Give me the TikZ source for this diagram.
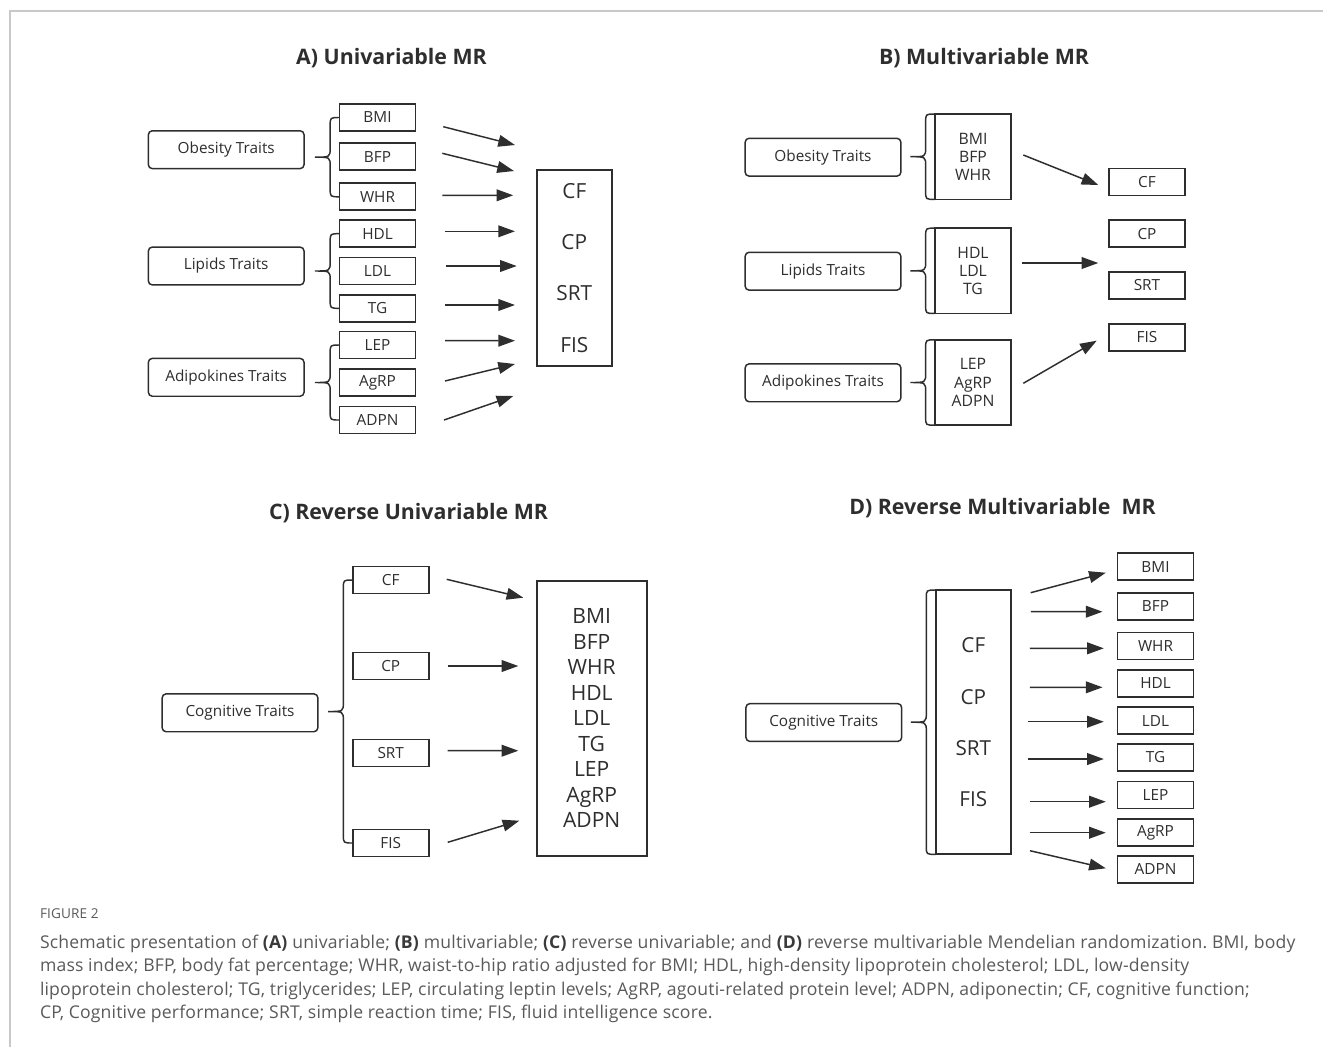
\documentclass[tikz,border=0pt]{standalone}
\usepackage{fontspec}
\setmainfont{Open Sans}
\newfontfamily\capfont[LetterSpace=1.0]{Open Sans}
\usetikzlibrary{arrows.meta,calc}
\definecolor{ink}{HTML}{2E2E2E}
\definecolor{capgray}{HTML}{5A5A5A}
\definecolor{capdark}{HTML}{3A3A3A}
\definecolor{framegray}{HTML}{C8C8C8}

% curly brace from one anchor down to another, tip pointing left at the midpoint
\newcommand\traitbrace[2]{%
  \draw[brc] let \p1=(#1), \p2=(#2), \p3=($(#1)!0.5!(#2)$) in
    (\p1) .. controls (\x1-7pt,\y1) .. (\x1-7pt,\y1-6pt)
    -- (\x3-7pt,\y3+7pt) .. controls (\x3-7pt,\y3) .. (\x3-18.5pt,\y3)
    .. controls (\x3-7pt,\y3) .. (\x3-7pt,\y3-7pt)
    -- (\x2-7pt,\y2+6pt) .. controls (\x2-7pt,\y2) .. (\p2);}

\begin{document}
\frenchspacing
\begin{tikzpicture}[x=0.75pt,y=-0.75pt,
  every node/.style={inner sep=0pt,outer sep=0pt,text=ink},
  lbl/.style={font=\fontsize{11.5}{13.7}\selectfont},
  trait/.style={lbl,draw=ink,line width=1.1pt,rounded corners=3pt,minimum width=116.8pt,minimum height=28.4pt},
  item/.style={lbl,draw=ink,line width=1.3pt,minimum width=57pt,minimum height=20.2pt},
  panel/.style={align=center,draw=ink,line width=1.3pt},
  ttl/.style={font=\bfseries\fontsize{16}{19}\selectfont,anchor=base},
  arr/.style={draw=ink,line width=1.1pt,-{Triangle[length=12.5pt,width=8.8pt]}},
  brc/.style={draw=ink,line width=1.1pt},
  captxt/.style={anchor=base west,text=capgray,font=\capfont\fontsize{13.2}{15}\selectfont},
]
\fill[white] (0,0) rectangle (1323,1047);
\useasboundingbox (0,0) rectangle (1323,1047);

% page frame
\draw[framegray,line width=1.1pt] (10,1047) -- (10,11) -- (1323,11);

% ---------------- A) Univariable MR ----------------
\node[ttl] (tA) at (391.5,64.5) {A) Univariable MR};
\node[trait] (obA) at (226.2,149.7) {Obesity Traits};
\node[trait] (liA) at (226.2,266) {Lipids Traits};
\node[trait] (adA) at (226.2,377.3) {Adipokines Traits};
\node[item] (bmiA)  at (377.5,117.5) {BMI};
\node[item] (bfpA)  at (377.5,156.8) {BFP};
\node[item] (whrA)  at (377.5,196.8) {WHR};
\node[item] (hdlA)  at (377.5,233.7) {HDL};
\node[item] (ldlA)  at (377.5,271)   {LDL};
\node[item] (tgA)   at (377.5,308.3) {TG};
\node[item] (lepA)  at (377.5,345)   {LEP};
\node[item] (agrpA) at (377.5,382.7) {AgRP};
\node[item] (adpnA) at (377.5,420)   {ADPN};
\node[panel,minimum width=56pt,minimum height=147pt,font=\fontsize{15.6}{38.3}\selectfont] (outA) at (574.3,268) {CF\\CP\\SRT\\FIS};
\traitbrace{bmiA.west}{whrA.west}
\traitbrace{hdlA.west}{tgA.west}
\traitbrace{lepA.west}{adpnA.west}
\draw[arr] ([shift={(27.8,9.2)}]bmiA.east)  -- ([shift={(-22,-123)}]outA.west);
\draw[arr] ([shift={(26.8,-3.5)}]bfpA.east) -- ([shift={(-23,-97)}]outA.west);
\draw[arr] ([shift={(26.8,-1.5)}]whrA.east) -- ([shift={(-23.7,-72.7)}]outA.west);
\draw[arr] ([shift={(29.5,-2.4)}]hdlA.east) -- ([shift={(-22,-36.7)}]outA.west);
\draw[arr] ([shift={(30.5,-5)}]ldlA.east)   -- ([shift={(-20.3,-2)}]outA.west);
\draw[arr] ([shift={(29.5,-3.3)}]tgA.east)  -- ([shift={(-22,37)}]outA.west);
\draw[arr] ([shift={(29.5,-4.3)}]lepA.east) -- ([shift={(-22,72.7)}]outA.west);
\draw[arr] ([shift={(29.5,-1.7)}]agrpA.east) -- ([shift={(-22,96)}]outA.west);
\draw[arr] ([shift={(28.5,0)}]adpnA.east)   -- ([shift={(-23.7,128)}]outA.west);

% ---------------- B) Multivariable MR ----------------
\node[ttl] (tB) at (984,64.5) {B) Multivariable MR};
\node[trait] (obB) at (823,157.2) {Obesity Traits};
\node[trait] (liB) at (823,271.2) {Lipids Traits};
\node[trait] (adB) at (823,382.8) {Adipokines Traits};
\node[panel,minimum width=57pt,minimum height=64pt,font=\fontsize{11.8}{13.7}\selectfont] (gObB) at (973,156.7) {BMI\\BFP\\WHR};
\node[panel,minimum width=57pt,minimum height=64pt,font=\fontsize{11.8}{13.7}\selectfont] (gLiB) at (973,270.8) {HDL\\LDL\\TG};
\node[panel,minimum width=57pt,minimum height=64pt,font=\fontsize{11.8}{13.7}\selectfont] (gAdB) at (973,382.5) {LEP\\AgRP\\ADPN};
\node[item] (cfB)  at (1147,182)   {CF};
\node[item] (cpB)  at (1147,233.7) {CP};
\node[item] (srtB) at (1147,285.3) {SRT};
\node[item] (fisB) at (1147,337.3) {FIS};
\traitbrace{gObB.north west}{gObB.south west}
\traitbrace{gLiB.north west}{gLiB.south west}
\traitbrace{gAdB.north west}{gAdB.south west}
\draw[arr] ([shift={(12.3,-1.7)}]gObB.east) -- ([shift={(-10.7,3)}]cfB.west);
\draw[arr] ([shift={(11.3,-7.8)}]gLiB.east) -- ([shift={(-10.7,-22.3)}]srtB.west);
\draw[arr] ([shift={(12.3,0.8)}]gAdB.east)  -- ([shift={(-12.3,3.4)}]fisB.west);

% ---------------- C) Reverse Univariable MR ----------------
\node[ttl] (tC) at (408.5,519.5) {C) Reverse Univariable MR};
\node[trait] (cgC) at (240,712.8) {Cognitive Traits};
\node[item] (cfC)  at (390.7,580) {CF};
\node[item] (cpC)  at (390.7,666) {CP};
\node[item] (srtC) at (390.7,753) {SRT};
\node[item] (fisC) at (390.7,843) {FIS};
\node[panel,minimum width=82.5pt,minimum height=206.5pt,font=\fontsize{15.8}{19.1}\selectfont] (outC) at (591.7,718.3) {BMI\\BFP\\WHR\\HDL\\LDL\\TG\\LEP\\AgRP\\ADPN};
\traitbrace{cfC.west}{fisC.west}
\draw[arr] ([shift={(18,-0.7)}]cfC.east)  -- ([shift={(-13.4,-120.6)}]outC.west);
\draw[arr] ([shift={(19,0)}]cpC.east)     -- ([shift={(-18.4,-52.3)}]outC.west);
\draw[arr] ([shift={(19,-2.3)}]srtC.east) -- ([shift={(-18.4,32.4)}]outC.west);
\draw[arr] ([shift={(19,-0.7)}]fisC.east) -- ([shift={(-17.4,102.4)}]outC.west);

% ---------------- D) Reverse Multivariable MR ----------------
\node[ttl] (tD) at (1002.5,514.5) {D) Reverse Multivariable\ \ MR};
\node[trait] (cgD) at (823.8,722.5) {Cognitive Traits};
\node[panel,minimum width=56.5pt,minimum height=198.2pt,font=\fontsize{15.5}{38.3}\selectfont] (inD) at (973.3,722.2) {CF\\CP\\SRT\\FIS};
\node[item] (bmiD)  at (1155.5,566.7) {BMI};
\node[item] (bfpD)  at (1155.5,606.3) {BFP};
\node[item] (whrD)  at (1155.5,646)   {WHR};
\node[item] (hdlD)  at (1155.5,683.3) {HDL};
\node[item] (ldlD)  at (1155.5,720.7) {LDL};
\node[item] (tgD)   at (1155.5,757.3) {TG};
\node[item] (lepD)  at (1155.5,795)   {LEP};
\node[item] (agrpD) at (1155.5,832.7) {AgRP};
\node[item] (adpnD) at (1155.5,869.3) {ADPN};
\traitbrace{inD.north west}{inD.south west}
\draw[arr] ([shift={(19.7,-129.5)}]inD.east) -- ([shift={(-11.7,6)}]bmiD.west);
\draw[arr] ([shift={(20,-110.5)}]inD.east)   -- ([shift={(-15,5.4)}]bfpD.west);
\draw[arr] ([shift={(19,-73.9)}]inD.east)    -- ([shift={(-13.7,2.3)}]whrD.west);
\draw[arr] ([shift={(19,-34.9)}]inD.east)    -- ([shift={(-15,4)}]hdlD.west);
\draw[arr] ([shift={(16.7,-0.5)}]inD.east)   -- ([shift={(-13.7,1)}]ldlD.west);
\draw[arr] ([shift={(16.7,36.8)}]inD.east)   -- ([shift={(-13.7,1.7)}]tgD.west);
\draw[arr] ([shift={(19,79.5)}]inD.east)     -- ([shift={(-11.7,6.7)}]lepD.west);
\draw[arr] ([shift={(19,110.5)}]inD.east)    -- ([shift={(-11.7,0)}]agrpD.west);
\draw[arr] ([shift={(19,128.5)}]inD.east)    -- ([shift={(-11.7,-1)}]adpnD.west);

% ---------------- caption ----------------
\node[captxt,font=\capfont\fontsize{10.2}{12}\selectfont] (fig) at (40,918.5) {FIGURE 2};
\node[captxt] (c1) at (40,948) {Schematic presentation of \textcolor{capdark}{\textbf{(A)}} univariable; \textcolor{capdark}{\textbf{(B)}} multivariable; \textcolor{capdark}{\textbf{(C)}} reverse univariable; and \textcolor{capdark}{\textbf{(D)}} reverse multivariable Mendelian randomization. BMI, body};
\node[captxt] (c2) at (40,971.5) {mass index; BFP, body fat percentage; WHR, waist-to-hip ratio adjusted for BMI; HDL, high-density lipoprotein cholesterol; LDL, low-density};
\node[captxt] (c3) at (40,995) {lipoprotein cholesterol; TG, triglycerides; LEP, circulating leptin levels; AgRP, agouti-related protein level; ADPN, adiponectin; CF, cognitive function;};
\node[captxt] (c4) at (40,1018.5) {CP, Cognitive performance; SRT, simple reaction time; FIS, fluid intelligence score.};
\end{tikzpicture}
\end{document}
